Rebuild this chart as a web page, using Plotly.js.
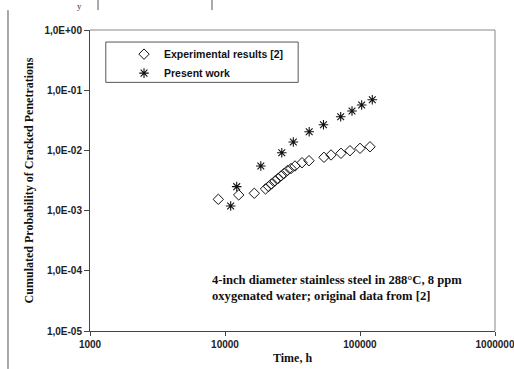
<!DOCTYPE html>
<html>
<head>
<meta charset="utf-8">
<script src="https://cdn.plot.ly/plotly-3.0.1.min.js"></script>
<style>html,body{margin:0;padding:0;background:#fff;}#chart{width:514px;height:369px;}</style>
</head>
<body>
<div id="chart"></div>
<script>
// Experimental results [2]
const expTime = [8920, 12630, 16480, 19950, 21000, 22100, 23470, 24700, 25990, 27350, 29040, 30830, 33000, 37190, 41900, 54100, 61000, 72300, 84300, 100000, 118600];
const expProb = [0.00154, 0.00182, 0.00194, 0.00229, 0.00251, 0.00277, 0.00311, 0.00341, 0.00376, 0.00413, 0.00464, 0.00500, 0.00551, 0.00625, 0.00674, 0.00768, 0.00840, 0.00895, 0.00989, 0.01083, 0.0115];
// Present work
const presTime = [11020, 12210, 18420, 26340, 32060, 42040, 53640, 71950, 87250, 102900, 123300];
const presProb = [0.00119, 0.00250, 0.00551, 0.00912, 0.01378, 0.02045, 0.02661, 0.03628, 0.04513, 0.05678, 0.06955];

const seriesNames = ["Experimental results [2]", "Present work"];
const xTickVals = [1000, 10000, 100000, 1000000];
const xTickText = ["1000", "10000", "100000", "1000000"];
const yTickVals = [1, 0.1, 0.01, 0.001, 0.0001, 0.00001];
const yTickText = ["1,0E+00", "1,0E-01", "1,0E-02", "1,0E-03", "1,0E-04", "1,0E-05"];
const xTitle = "Time, h";
const yTitle = "Cumulated Probability of Cracked Penetrations";
const noteText = "4-inch diameter stainless steel in 288°C, 8 ppm<br>oxygenated water; original data from [2]";

const tickFont = {family: "Liberation Sans, Arial, sans-serif", size: 10, color: "#222", weight: "bold"};
const serifBold = {family: "Liberation Serif, Times New Roman, serif", size: 12, color: "#111", weight: "bold"};

const traces = [
  {x: expTime, y: expProb, name: seriesNames[0], type: "scatter", mode: "markers",
   marker: {symbol: "diamond-open", size: 8, color: "#111", line: {width: 1, color: "#111"}}},
  {x: presTime, y: presProb, name: seriesNames[1], type: "scatter", mode: "markers",
   marker: {symbol: "asterisk-open", size: 8, color: "#111", line: {width: 1.1, color: "#111"}}}
];

const layout = {
  width: 514, height: 369,
  margin: {l: 90, r: 19, t: 30, b: 38},
  paper_bgcolor: "#fff", plot_bgcolor: "#fff",
  showlegend: true,
  legend: {x: 0.084, y: 0.968, xanchor: "left", yanchor: "top", bgcolor: "rgba(0,0,0,0)",
           borderwidth: 0, font: {family: "Liberation Sans, Arial, sans-serif", size: 10.5, color: "#111", weight: "bold"}},
  xaxis: {type: "log", range: [3, 6], tickvals: xTickVals, ticktext: xTickText,
          showgrid: false, zeroline: false, showline: true, linecolor: "#444", linewidth: 1,
          ticks: "outside", ticklen: 4, tickcolor: "#444", tickfont: tickFont, ticklabeloverflow: "allow",
          title: {text: xTitle, font: serifBold, standoff: 4}},
  yaxis: {type: "log", range: [-5, 0], tickvals: yTickVals, ticktext: yTickText,
          showgrid: false, zeroline: false, showline: true, linecolor: "#444", linewidth: 1,
          ticks: "outside", ticklen: 5, tickcolor: "#444", tickfont: tickFont,
          title: {text: yTitle, font: serifBold, standoff: 8}},
  shapes: [
    {type: "line", xref: "paper", yref: "paper", x0: 0, x1: 1, y0: 1, y1: 1, line: {color: "#888", width: 1}},
    {type: "line", xref: "paper", yref: "paper", x0: 1, x1: 1, y0: 0, y1: 1, line: {color: "#888", width: 1}},
    {type: "rect", xref: "paper", yref: "paper", x0: 0.039, x1: 0.514, y0: 0.826, y1: 0.960, line: {color: "#555", width: 1}},
    {type: "line", xref: "paper", yref: "paper", x0: -0.2025, x1: -0.2025, y0: -0.126, y1: 1.066, line: {color: "#555", width: 1}},
    {type: "line", xref: "paper", yref: "paper", x0: 0.0198, x1: 0.0198, y0: 1.066, y1: 1.1, line: {color: "#555", width: 1}},
    {type: "line", xref: "paper", yref: "paper", x0: 0.3012, x1: 0.3012, y0: 1.066, y1: 1.1, line: {color: "#555", width: 1}}
  ],
  annotations: [
    {xref: "paper", yref: "paper", x: 0.296, y: 0.143, xanchor: "left", yanchor: "middle", align: "left",
     showarrow: false, text: noteText, font: {family: serifBold.family, size: 12.6, color: "#111", weight: "bold"}},
    {xref: "paper", yref: "paper", x: -0.025, y: 1.0997, xanchor: "center", yanchor: "top",
     showarrow: false, text: "y", borderpad: 0, font: {family: serifBold.family, size: 9, color: "#333"}}
  ]
};

Plotly.newPlot("chart", traces, layout, {displayModeBar: false, staticPlot: true});
</script>
</body>
</html>
